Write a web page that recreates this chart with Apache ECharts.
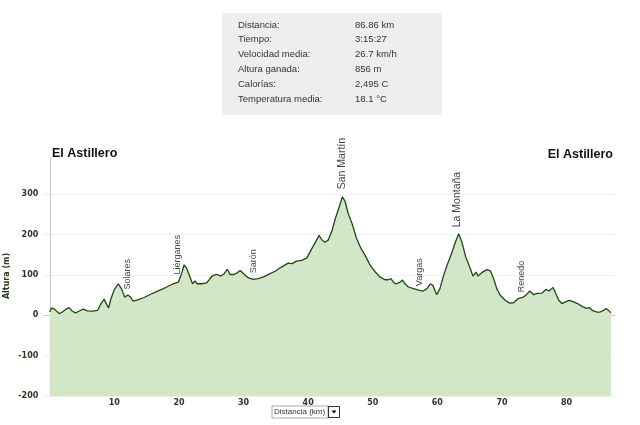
<!DOCTYPE html>
<html>
<head>
<meta charset="utf-8">
<script src="https://cdn.jsdelivr.net/npm/echarts@6/dist/echarts.min.js"></script>
<style>
html,body{margin:0;padding:0;background:#fff;}
#chart{width:640px;height:425px;}
</style>
</head>
<body>
<div id="chart"></div>
<script>
// Elevation profile: distance (km) and altitude (m)
const distanceKm = [0,0.25,0.67,1.44,1.95,2.5,3.0,3.5,4.0,4.5,5.2,5.8,6.6,7.4,7.8,8.4,8.8,9.1,9.4,9.95,10.6,11.1,11.6,12.1,12.5,12.9,13.6,14.6,15.6,16.7,17.6,18.1,19.1,19.9,20.4,20.8,21.2,21.7,22.1,22.5,22.8,23.5,24.3,24.8,25.3,25.9,26.5,27.0,27.5,27.9,28.5,29.0,29.5,30.0,30.7,31.5,32.3,33.1,34.1,34.9,35.9,36.9,37.5,38.2,39.0,39.8,40.3,40.8,41.3,41.7,42.1,42.6,43.1,43.7,44.2,44.8,45.3,45.7,46.2,46.8,47.5,48.2,48.8,49.6,50.4,51.1,51.9,52.4,52.8,53.3,53.7,54.2,54.6,55.0,55.5,56.3,57.1,57.8,58.4,58.9,59.3,59.9,60.4,60.9,61.5,62.2,62.7,63.3,63.8,64.4,65.1,65.5,66.0,66.3,67.0,67.7,68.2,68.7,69.2,69.7,70.5,71.2,71.8,72.5,73.3,73.8,74.3,74.9,75.5,76.2,76.8,77.3,77.9,78.3,78.8,79.3,79.8,80.4,81.1,81.7,82.4,83.1,83.5,84.0,84.7,85.2,85.7,86.1,86.5,86.86];
const altitudeM = [8,18,16,4,8,15,19,10,6,10,15,11,10,12,25,40,27,18,37,62,78,66,45,50,45,35,38,44,52,60,66,70,78,82,103,125,116,95,78,85,78,78,80,91,99,101,97,103,114,101,101,105,111,103,93,89,91,95,103,109,120,129,128,134,136,142,157,172,186,198,187,181,186,210,239,268,293,283,252,227,190,165,149,124,107,95,88,88,91,80,78,82,87,78,70,66,62,60,66,78,74,51,66,95,124,153,177,202,181,144,116,97,107,97,107,113,110,91,66,50,37,30,31,41,45,51,60,51,54,55,64,60,69,55,37,29,33,37,33,29,22,17,19,12,8,8,12,17,12,6];

// Place annotations: name, km, altitude where the label starts
const placeNames = ['Solares','Liérganes','Sarón','San Martín','Vargas','La Montaña','Renedo'];
const placeKm = [12.1,19.7,31.5,45.2,57.2,63.0,73.1];
const placeAlt = [64,101,104,312,72,218,57];
const placeBig = [false,false,false,true,false,true,false];

// Axis ticks
const xTickValues = [10,20,30,40,50,60,70,80];
const yTickValues = [-200,-100,0,100,200,300];
const yAxisTitle = 'Altura (m)';

// Summary stats
const statLabels = ['Distancia:','Tiempo:','Velocidad media:','Altura ganada:','Calorías:','Temperatura media:'];
const statValues = ['86.86 km','3:15:27','26.7 km/h','856 m','2,495 C','18.1 °C'];

const profile = distanceKm.map((d,i)=>[d, altitudeM[i]]);
const places = placeNames.map((n,i)=>({
  name:n, value:[placeKm[i], placeAlt[i]],
  label:{fontSize: placeBig[i] ? 10.5 : 9}
}));

const chart = echarts.init(document.getElementById('chart'), null, {renderer:'canvas'});

const graphics = [
  {type:'rect', shape:{x:222,y:13,width:220,height:102}, style:{fill:'#eeeeee'}},
  {type:'text', left:52, top:147, style:{text:'El Astillero', font:'bold 12.5px "Liberation Sans", Arial', fill:'#111'}},
  {type:'text', right:27, top:148, style:{text:'El Astillero', font:'bold 12.5px "Liberation Sans", Arial', fill:'#111'}},
  {type:'text', x:6.5, y:276, rotation:Math.PI/2, style:{text:yAxisTitle, font:'bold 8px "DejaVu Sans"', fill:'#2a3a20', align:'center', verticalAlign:'middle'}},
  {type:'rect', shape:{x:272,y:406,width:56,height:12}, style:{fill:'#fff', stroke:'#aaa', lineWidth:1}},
  {type:'text', x:274, y:412, style:{text:'Distancia (km)', font:'8px "Liberation Sans", Arial', fill:'#333', verticalAlign:'middle'}},
  {type:'rect', shape:{x:328.5,y:406.5,width:11,height:11}, style:{fill:'#fff', stroke:'#333', lineWidth:1}},
  {type:'polygon', shape:{points:[[331.5,410.5],[336.5,410.5],[334,413.5]]}, style:{fill:'#000'}}
];
statLabels.forEach((t,i)=>{
  graphics.push({type:'text', x:238, y:25+i*14.8, style:{text:t, font:'9.5px "Liberation Sans", Arial', fill:'#333', verticalAlign:'middle'}});
  graphics.push({type:'text', x:355, y:25+i*14.8, style:{text:statValues[i], font:'9.5px "Liberation Sans", Arial', fill:'#333', verticalAlign:'middle'}});
});

chart.setOption({
  animation:false,
  backgroundColor:'#ffffff',
  grid:{left:43.3, right:25, top:157, bottom:29, containLabel:false, outerBoundsMode:'none'},
  xAxis:{
    type:'value', min:-1, max:87.5,
    axisLine:{show:true, lineStyle:{color:'#cccccc', width:1}},
    axisTick:{show:false},
    splitLine:{show:false},
    axisLabel:{customValues:xTickValues, margin:3, fontSize:8, fontWeight:'bold', fontFamily:'DejaVu Sans', color:'#333'}
  },
  yAxis:{
    type:'value', min:-200, max:392, interval:100,
    axisLine:{show:true, lineStyle:{color:'#cccccc', width:1}},
    axisTick:{show:false},
    splitLine:{show:true, showMaxLine:false, lineStyle:{color:'#eeeeee', width:1}},
    axisLabel:{customValues:yTickValues, margin:5, fontSize:8, fontWeight:'bold', fontFamily:'DejaVu Sans', color:'#2a3a20'}
  },
  series:[
    {
      type:'line', data:profile, symbol:'none', smooth:false,
      lineStyle:{color:'#1d4a12', width:1.3},
      areaStyle:{color:'#d3e7c8', opacity:1, origin:'start'},
      z:2
    },
    {
      type:'scatter', data:places, symbolSize:0, z:5, silent:true,
      label:{show:true, formatter:'{b}', position:[0,0], rotate:90, align:'left', verticalAlign:'middle',
             fontFamily:'"Liberation Sans", Arial', color:'#111'}
    }
  ],
  graphic:graphics
});
</script>
</body>
</html>
